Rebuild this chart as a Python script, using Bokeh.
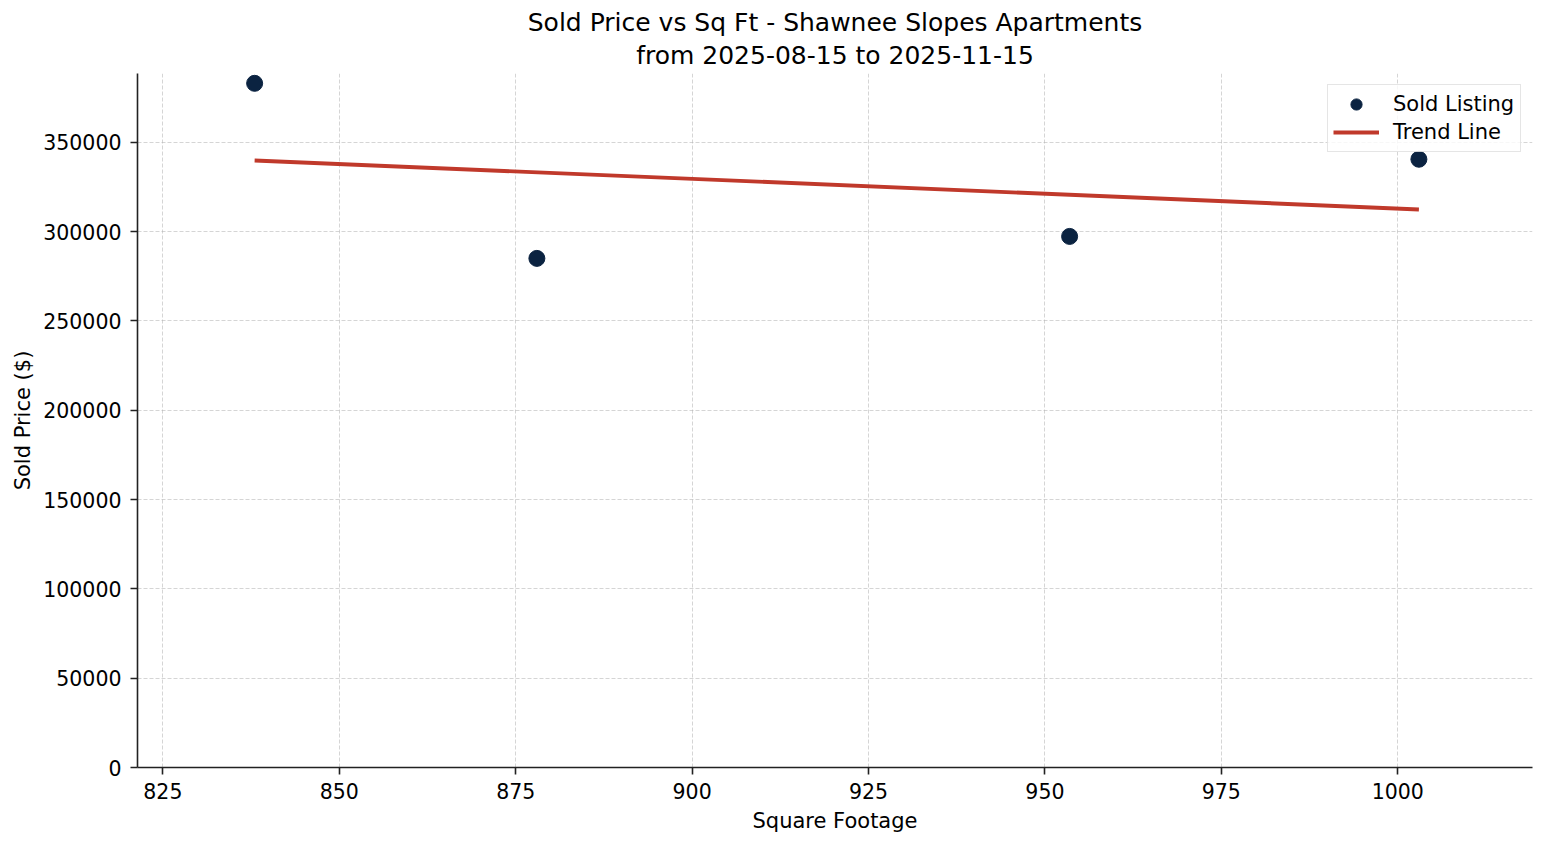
from bokeh.plotting import figure
from bokeh.models import FixedTicker, BasicTickFormatter, Range1d, Legend, LegendItem, Title
from bokeh.embed import file_html
from bokeh.resources import INLINE

# sold listings
sq_ft = [838, 878, 953.5, 1003]
sold_price = [383000, 285000, 297300, 340500]

# trend line end points as drawn
trend_x = [838, 1003]
trend_y = [339800, 312400]

x_ticks = [825, 850, 875, 900, 925, 950, 975, 1000]
y_ticks = [0, 50000, 100000, 150000, 200000, 250000, 300000, 350000]

title_lines = ["Sold Price vs Sq Ft - Shawnee Slopes Apartments",
               "from 2025-08-15 to 2025-11-15"]

FONT = "DejaVu Sans"

p = figure(width=1540, height=840, output_backend="svg", toolbar_location=None,
           x_range=Range1d(821.4, 1019.1), y_range=Range1d(0, 388500),
           min_border_left=137, min_border_right=8, min_border_top=73, min_border_bottom=73)

# subtitle first so it sits closest to the plot
for i, line in enumerate(reversed(title_lines)):
    t = Title(text=line, align="center", text_font=FONT, text_font_size="25px",
              text_font_style="normal", text_color="#000000",
              standoff=8 if i == 0 else -5, offset=0)
    p.add_layout(t, "above")

p.outline_line_color = None
p.background_fill_color = "white"

for ax in (p.xaxis[0], p.yaxis[0]):
    ax.major_label_text_font = FONT
    ax.major_label_text_font_size = "20.5px"
    ax.major_label_text_color = "#000000"
    ax.axis_label_text_font = FONT
    ax.axis_label_text_font_size = "21px"
    ax.axis_label_text_font_style = "normal"
    ax.axis_label_text_color = "#000000"
    ax.axis_line_color = "#222222"
    ax.axis_line_width = 1.6
    ax.major_tick_line_color = "#222222"
    ax.major_tick_line_width = 1.6
    ax.major_tick_out = 7
    ax.major_tick_in = 0
    ax.minor_tick_line_color = None

p.xaxis.axis_label = "Square Footage"
p.yaxis.axis_label = "Sold Price ($)"
p.xaxis.major_label_standoff = 8
p.yaxis.major_label_standoff = 9
p.xaxis.axis_label_standoff = 7
p.yaxis.axis_label_standoff = 5
p.xaxis.ticker = FixedTicker(ticks=x_ticks)
p.yaxis.ticker = FixedTicker(ticks=y_ticks)
p.yaxis.formatter = BasicTickFormatter(use_scientific=False)

p.grid.grid_line_color = "#b0b0b0"
p.grid.grid_line_alpha = 0.6
p.grid.grid_line_width = 0.9
p.grid.grid_line_dash = "4 2"

pts = p.scatter(sq_ft, sold_price, size=16, color="#0b2341")
trend = p.line(trend_x, trend_y, line_color="#c0392b", line_width=3.9)

legend = Legend(items=[LegendItem(label="Sold Listing", renderers=[pts]),
                       LegendItem(label="Trend Line", renderers=[trend])],
                location="top_right")
legend.label_text_font = FONT
legend.label_text_font_size = "21px"
legend.label_text_color = "#000000"
legend.glyph_width = 46
legend.glyph_height = 28
legend.label_height = 28
legend.label_width = 122
legend.label_standoff = 14
legend.spacing = 0
legend.padding = 5
legend.margin = 11
legend.border_line_color = "#cccccc"
legend.border_line_width = 1.5
legend.background_fill_alpha = 0.8
p.add_layout(legend)

open("out.html", "w").write(file_html(p, INLINE))
